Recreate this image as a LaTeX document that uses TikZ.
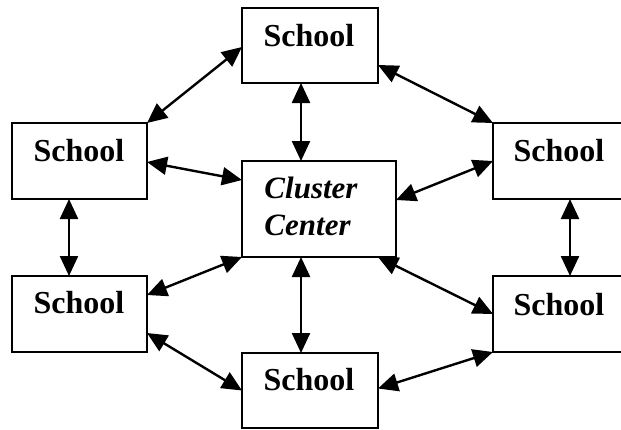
\documentclass[tikz,border=0pt]{standalone}
\usepackage{fontspec}
\setmainfont{Liberation Serif}
\usetikzlibrary{arrows.meta,calc}
\begin{document}
\begin{tikzpicture}[x=1pt,y=-1pt,
  box/.style={draw, line width=2.4pt, minimum width=135pt, minimum height=75pt, inner sep=0pt, outer sep=0pt},
  lbl/.style={font=\fontsize{32}{37}\selectfont\bfseries, inner sep=0pt},
  conn/.style={line width=2.4pt, {Triangle[length=20pt,width=18pt]}-{Triangle[length=20pt,width=18pt]}, shorten <=0pt, shorten >=0pt}]
\useasboundingbox (0,0) rectangle (621,429);
\clip (0,0) rectangle (621,429);
\fill[white] (0,0) rectangle (621,429);
% boxes
\node[box, minimum width=136pt] (T) at (310,45.5) {};
\node[box, minimum height=76pt] (L) at (79.5,161) {};
\node[box, minimum height=76pt] (R) at (560.5,161) {};
\node[box, minimum width=154pt, minimum height=96pt] (C) at (319,209) {};
\node[box, minimum height=76pt] (LL) at (79.5,314) {};
\node[box, minimum height=76pt] (RL) at (560.5,314) {};
\node[box, minimum width=136pt] (B) at (310,390.5) {};
% labels
\node[lbl] (Tt) at (309,36) {School};
\node[lbl] (Lt) at (79,151) {School};
\node[lbl] (Rt) at (559,151) {School};
\node[lbl] (LLt) at (79,303) {School};
\node[lbl] (RLt) at (559,305) {School};
\node[lbl] (Bt) at (309,380) {School};
\node[font=\fontsize{31}{37}\selectfont\bfseries\itshape, inner sep=0pt, align=left] (Ct) at (311,206.5) {Cluster\\Center};
% connectors
\draw[conn] ([yshift=-1.5pt]T.west) -- (L.north east);
\draw[conn] ($(T.south east)!0.24!(T.north east)$) -- (R.north west);
\draw[conn] ([xshift=-9pt]T.south) -- ([xshift=-18pt]C.north);
\draw[conn] ([yshift=-1pt]L.east) -- ([yshift=29pt]C.west);
\draw[conn] ([yshift=9pt]C.east) -- (R.west);
\draw[conn] ([xshift=-10.5pt]L.south) -- ([xshift=-10.5pt]LL.north);
\draw[conn] ([xshift=9.5pt]R.south) -- ([xshift=9.5pt]RL.north);
\draw[conn] (C.south west) -- ([yshift=19pt]LL.east);
\draw[conn] ([xshift=-18pt]C.south) -- ([xshift=-9pt]B.north);
\draw[conn] ([xshift=-18pt]C.south east) -- (RL.west);
\draw[conn] ([yshift=-19pt]LL.east) -- (B.west);
\draw[conn] ([yshift=2pt]B.east) -- (RL.south west);
\end{tikzpicture}
\end{document}
